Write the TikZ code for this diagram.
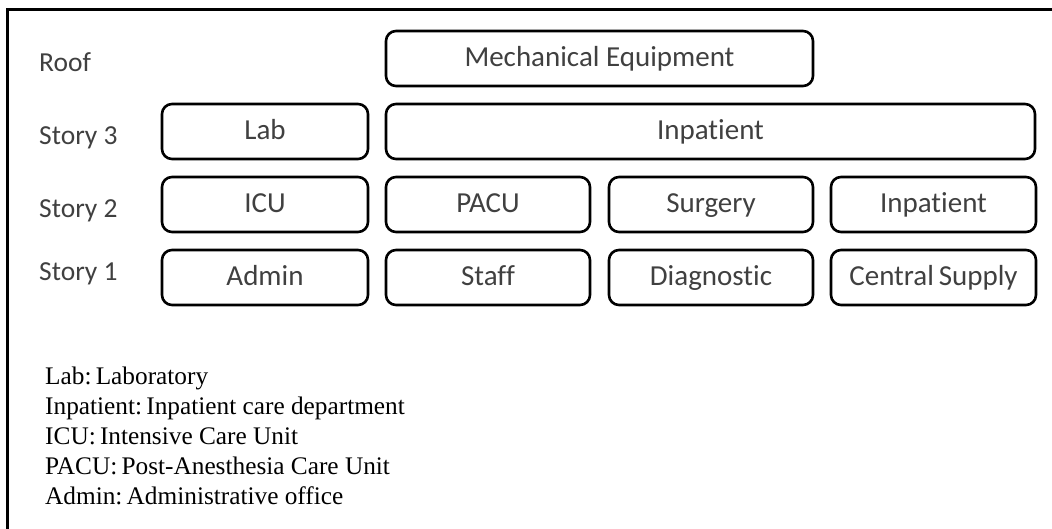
\documentclass[tikz,border=0pt]{standalone}
\usepackage{fontspec}
\setmainfont{Liberation Serif}
\newfontfamily\boxfont[Ligatures={NoCommon,NoContextual}]{Carlito}
\definecolor{labelgray}{HTML}{404040}
\begin{document}
\begin{tikzpicture}[x=1pt,y=-1pt,
  room/.style={draw=black, line width=2.6pt, rounded corners=10pt, minimum height=55pt,
    inner sep=0pt, text height=18pt, text depth=2pt,
    font=\boxfont\fontsize{29}{33}\selectfont, text=labelgray},
  storylabel/.style={anchor=west, inner sep=0pt, text height=18pt, text depth=2pt,
    font=\boxfont\fontsize{27.5}{31}\selectfont, text=labelgray},
  legendtext/.style={anchor=north west, inner sep=0pt, align=left, font=\fontsize{25.3}{30}\selectfont, text=black}]
\useasboundingbox (0,0) rectangle (1052,529);
\begin{scope}
\clip (0,0) rectangle (1052,529);
\draw[line width=3pt] (7,540) -- (7,10) -- (1060,10);
\end{scope}
% story labels
\node[storylabel] (roof) at (39,63.5) {Roof};
\node[storylabel] (s3) at (39,137) {Story 3};
\node[storylabel] (s2) at (39,210) {Story 2};
\node[storylabel] (s1) at (39,273) {Story 1};
% rooms
\node[room, minimum width=427pt] (mech) at (599.5,58.5) {Mechanical Equipment};
\node[room, minimum width=206pt] (lab) at (265,131.5) {Lab};
\node[room, minimum width=649pt] (inp3) at (710.5,131.5) {Inpatient};
\node[room, minimum width=206pt] (icu) at (265,204.5) {ICU};
\node[room, minimum width=204pt] (pacu) at (488,204.5) {PACU};
\node[room, minimum width=204pt] (surg) at (711,204.5) {Surgery};
\node[room, minimum width=205pt] (inp2) at (933.5,204.5) {Inpatient};
\node[room, minimum width=206pt] (admin) at (265,277.5) {Admin};
\node[room, minimum width=204pt] (staff) at (488,277.5) {Staff};
\node[room, minimum width=204pt] (diag) at (711,277.5) {Diagnostic};
\node[room, minimum width=205pt] (cs) at (933.5,277.5) {Central\,Supply};
% legend
\node[legendtext] (legend) at (45,367) {Lab:\,Laboratory\\Inpatient:\,Inpatient care department\\ICU:\,Intensive Care Unit\\PACU:\,Post-Anesthesia Care Unit\\Admin:\,Administrative office};
\end{tikzpicture}
\end{document}
